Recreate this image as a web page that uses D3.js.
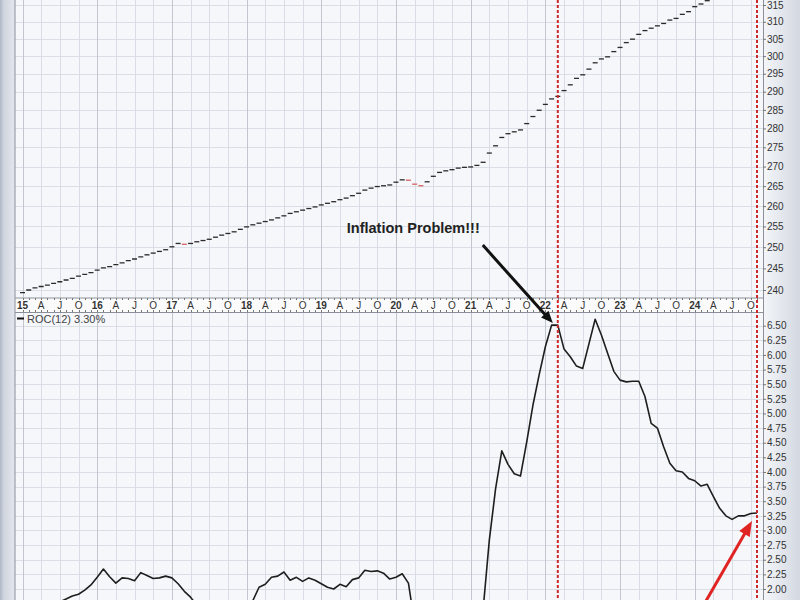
<!DOCTYPE html>
<html><head><meta charset="utf-8">
<script src="https://cdn.jsdelivr.net/npm/d3@7/dist/d3.min.js"></script>
<style>html,body{margin:0;padding:0;background:#fff;}svg{display:block;font-family:"Liberation Sans",Arial,sans-serif;}</style>
</head><body><svg id="c" width="800" height="600"></svg>
<script>
// ---------------- DATA ----------------
const startMonth = "2015-01";
const endMonth = "2024-11";
// Core CPI index (monthly) (log scale)
const cpi = [
 239.4,240.0,240.5,240.8,241.1,241.5,241.9,242.3,242.7,243.2,243.6,244.0,
 244.6,245.1,245.4,245.9,246.3,246.8,247.2,247.7,248.2,248.6,249.0,249.4,
 250.1,250.9,250.7,250.9,251.3,251.6,251.9,252.4,252.9,253.3,253.7,254.3,
 254.9,255.4,255.8,256.2,256.6,257.1,257.6,258.2,258.6,259.0,259.4,259.8,
 260.3,260.7,261.1,261.6,262.0,262.6,263.2,264.0,264.5,264.9,265.1,265.3,
 266.0,266.6,266.5,265.5,265.1,266.1,267.5,268.5,268.9,269.2,269.6,269.8,
 269.9,270.3,271.1,273.5,275.4,277.6,278.6,279.1,279.6,281.3,283.2,284.9,
 286.5,288.0,288.7,290.3,291.9,293.7,294.7,296.3,298.1,299.2,299.8,301.3,
 302.5,303.9,304.9,306.3,307.4,308.1,308.8,309.5,310.5,311.0,312.2,313.0,
 314.5,315.3,316.3,317.3,317.8,318.1,318.6,319.6,320.6,321.3,322.5
];
// ROC(12) in percent
const roc = [
 1.60,1.70,1.80,1.80,1.70,1.75,1.78,1.83,1.88,1.91,1.98,2.07,
 2.20,2.34,2.21,2.10,2.19,2.18,2.14,2.28,2.23,2.18,2.19,2.22,
 2.19,2.09,1.96,1.86,1.72,1.70,1.70,1.68,1.70,1.76,1.70,1.76,
 1.78,1.80,2.03,2.08,2.20,2.22,2.29,2.15,2.20,2.13,2.19,2.15,
 2.09,2.03,2.00,2.08,2.04,2.16,2.19,2.32,2.30,2.31,2.27,2.17,
 2.20,2.26,2.10,1.41,1.24,1.19,1.57,1.70,1.71,1.62,1.64,1.61,
 1.40,1.28,1.65,2.84,3.71,4.36,4.13,3.97,3.93,4.51,5.14,5.66,
 6.14,6.51,6.51,6.10,5.97,5.81,5.77,6.19,6.61,6.34,6.03,5.72,
 5.57,5.54,5.55,5.55,5.29,4.83,4.75,4.43,4.15,4.02,4.00,3.89,
 3.85,3.76,3.79,3.58,3.38,3.25,3.19,3.25,3.25,3.29,3.30
];
const priceTicks = [240,245,250,255,260,265,270,275,280,285,290,295,300,305,310,315];
const rocTicks = [2.00,2.25,2.50,2.75,3.00,3.25,3.50,3.75,4.00,4.25,4.50,4.75,5.00,5.25,5.50,5.75,6.00,6.25,6.50];
const yearLabels = ["15","16","17","18","19","20","21","22","23","24"];
const quarterMonths = ["04","07","10"];
const quarterLabels = ["A","J","O"];
const markerMonths = ["2022-03","2024-11"];
const annotationText = "Inflation Problem!!!";
const legendText = "ROC(12) 3.30%";

// ---------------- LAYOUT ----------------
const W = 800, H = 600;
const L = 15, R = 763;
const topPanel = {y0: -10, y1: 297.5};
const band = {y0: 298, y1: 311};
const botPanel = {y0: 312, y1: 620};

const parseM = d3.timeParse("%Y-%m");
const fmtM = d3.timeFormat("%Y-%m");
const monthKeys = d3.timeMonth.range(parseM(startMonth), d3.timeMonth.offset(parseM(endMonth), 1)).map(fmtM);

const x = d3.scalePoint().domain(monthKeys).range([22.5, 757]);
const yTop = d3.scaleLog().domain([240, 315]).range([290, 5]);
const yBot = d3.scaleLinear().domain([2, 6.5]).range([589, 325.7]);

const svg = d3.select("#c");
const defs = svg.append("defs");

const lg = defs.append("linearGradient").attr("id", "leftg").attr("x1", 0).attr("x2", 1);
lg.append("stop").attr("offset", "0").attr("stop-color", "#aeb5c4");
lg.append("stop").attr("offset", "0.25").attr("stop-color", "#cfd4de");
lg.append("stop").attr("offset", "1").attr("stop-color", "#e4e7ee");
const rg = defs.append("linearGradient").attr("id", "rightg").attr("x1", 0).attr("x2", 1);
rg.append("stop").attr("offset", "0").attr("stop-color", "#f4f6f9");
rg.append("stop").attr("offset", "1").attr("stop-color", "#d3d8e1");

defs.append("clipPath").attr("id", "clipTop").append("rect")
  .attr("x", L).attr("y", topPanel.y0).attr("width", R - L).attr("height", topPanel.y1 - topPanel.y0);
defs.append("clipPath").attr("id", "clipBot").append("rect")
  .attr("x", L).attr("y", botPanel.y0).attr("width", R - L).attr("height", botPanel.y1 - botPanel.y0);

// backgrounds
svg.append("rect").attr("x", 0).attr("y", 0).attr("width", W).attr("height", H).attr("fill", "#ffffff");
svg.append("rect").attr("x", 0).attr("y", 0).attr("width", L).attr("height", H).attr("fill", "url(#leftg)");
svg.append("rect").attr("x", R).attr("y", 0).attr("width", W - R).attr("height", H).attr("fill", "url(#rightg)");
[topPanel, botPanel].forEach(p => {
  svg.append("rect").attr("x", L).attr("y", p.y0).attr("width", R - L).attr("height", p.y1 - p.y0).attr("fill", "#f5f7fa");
});
svg.append("rect").attr("x", L).attr("y", band.y0).attr("width", R - L).attr("height", band.y1 - band.y0).attr("fill", "#fbfbfc");

const quarterKeys = monthKeys.filter(k => k.slice(5) === "01" || quarterMonths.includes(k.slice(5)));

// grid
function grid(p, yScale, ticks) {
  const g = svg.append("g");
  g.selectAll("line.h").data(ticks).join("line")
    .attr("x1", L).attr("x2", R)
    .attr("y1", d => Math.round(yScale(d)) + 0.5).attr("y2", d => Math.round(yScale(d)) + 0.5)
    .attr("stroke", "#dadee6").attr("stroke-width", 1);
  g.selectAll("line.v").data(quarterKeys).join("line")
    .attr("x1", d => Math.round(x(d)) + 0.5).attr("x2", d => Math.round(x(d)) + 0.5)
    .attr("y1", Math.max(p.y0, 0)).attr("y2", p.y1)
    .attr("stroke", d => d.slice(5) === "01" ? "#c2c6ce" : "#d8dce4").attr("stroke-width", 1);
}
grid(topPanel, yTop, priceTicks);
grid(botPanel, yBot, rocTicks);

// panel borders
svg.append("line").attr("x1", L).attr("x2", L).attr("y1", 0).attr("y2", H).attr("stroke", "#8a8f99");
svg.append("line").attr("x1", R + 0.5).attr("x2", R + 0.5).attr("y1", 0).attr("y2", H).attr("stroke", "#8a8f99");
svg.append("line").attr("x1", L).attr("x2", R).attr("y1", band.y0).attr("y2", band.y0).attr("stroke", "#8a8f99");
svg.append("line").attr("x1", L).attr("x2", R).attr("y1", botPanel.y0 + 0.5).attr("y2", botPanel.y0 + 0.5).attr("stroke", "#8a8f99");

// band ticks (dotted)
const bandG = svg.append("g");
bandG.selectAll("line.t").data(monthKeys).join("line")
  .attr("x1", d => Math.round(x(d)) + 0.5).attr("x2", d => Math.round(x(d)) + 0.5)
  .attr("y1", band.y0).attr("y2", band.y0 + 2).attr("stroke", "#777");
bandG.selectAll("line.b").data(monthKeys).join("line")
  .attr("x1", d => Math.round(x(d)) + 0.5).attr("x2", d => Math.round(x(d)) + 0.5)
  .attr("y1", band.y1 - 1).attr("y2", band.y1 + 1).attr("stroke", "#777");
bandG.selectAll("text").data(quarterKeys).join("text")
  .attr("x", d => x(d)).attr("y", band.y1 - 2)
  .attr("text-anchor", "middle")
  .attr("font-size", 10)
  .attr("font-weight", d => d.slice(5) === "01" ? "bold" : "normal")
  .attr("fill", "#333")
  .text(d => {
    const m = d.slice(5);
    if (m === "01") return yearLabels[+d.slice(0, 4) - 2015];
    return quarterLabels[quarterMonths.indexOf(m)];
  });

// right axes
const axT = svg.append("g").attr("transform", `translate(${R},0)`)
  .call(d3.axisRight(yTop).tickValues(priceTicks).tickFormat(d3.format("d")).tickSize(3).tickPadding(1));
const axB = svg.append("g").attr("transform", `translate(${R},0)`)
  .call(d3.axisRight(yBot).tickValues(rocTicks).tickFormat(d3.format(".2f")).tickSize(3).tickPadding(1));
[axT, axB].forEach(a => {
  a.select(".domain").remove();
  a.selectAll("line").attr("stroke", "#777");
  a.selectAll("text").attr("font-size", 10).attr("fill", "#333").attr("font-family", "Liberation Sans, Arial, sans-serif");
});

// upper panel price dashes
const topG = svg.append("g").attr("clip-path", "url(#clipTop)");
topG.selectAll("line").data(cpi).join("line")
  .attr("x1", (d, i) => x(monthKeys[i]) - 2.5)
  .attr("x2", (d, i) => x(monthKeys[i]) + 2.5)
  .attr("y1", d => yTop(d)).attr("y2", d => yTop(d))
  .attr("stroke", (d, i) => (i > 0 && d < cpi[i - 1]) ? "#d86060" : "#2a2a2a")
  .attr("stroke-width", 1.3);

// lower panel ROC line
const botG = svg.append("g").attr("clip-path", "url(#clipBot)");
botG.append("path").datum(roc)
  .attr("d", d3.line().x((d, i) => x(monthKeys[i])).y(d => yBot(d)))
  .attr("fill", "none").attr("stroke", "#1e1e1e").attr("stroke-width", 1.6).attr("stroke-linejoin", "round");

// legend
svg.append("line").attr("x1", 17).attr("x2", 24).attr("y1", 318.5).attr("y2", 318.5).attr("stroke", "#111").attr("stroke-width", 2);
svg.append("text").attr("x", 27).attr("y", 322.5).attr("font-size", 11).attr("fill", "#444").text(legendText);

// red dashed markers
svg.selectAll("line.mk").data(markerMonths).join("line")
  .attr("x1", d => x(d)).attr("x2", d => x(d))
  .attr("y1", 0).attr("y2", H)
  .attr("stroke", "#cc2a2a").attr("stroke-width", 2).attr("stroke-dasharray", "3,2");

// arrows
function arrow(tip, start, color, width, headLen, headW) {
  const dx = tip[0] - start[0], dy = tip[1] - start[1];
  const len = Math.hypot(dx, dy), ux = dx / len, uy = dy / len;
  const bx = tip[0] - ux * headLen, by = tip[1] - uy * headLen;
  svg.append("line").attr("x1", start[0]).attr("y1", start[1]).attr("x2", bx + ux * 2).attr("y2", by + uy * 2)
    .attr("stroke", color).attr("stroke-width", width);
  svg.append("polygon").attr("points", [
    [tip[0], tip[1]],
    [bx - uy * headW / 2, by + ux * headW / 2],
    [bx + uy * headW / 2, by - ux * headW / 2]
  ].map(p => p.join(",")).join(" ")).attr("fill", color);
}
const iPeak = monthKeys.indexOf(markerMonths[0]);
const tipB = [x(markerMonths[0]) - 5, yBot(roc[iPeak]) - 2];
arrow(tipB, [tipB[0] - 70, tipB[1] - 78], "#111", 3, 12, 10);
const iLast = monthKeys.length - 1;
const tipR = [x(monthKeys[iLast]) - 5, yBot(roc[iLast]) + 8];
arrow(tipR, [tipR[0] - 46, tipR[1] + 80], "#e02424", 3, 15, 12);

// annotation text
svg.append("text").attr("x", tipB[0] - 206).attr("y", tipB[1] - 90)
  .attr("font-size", 14.5).attr("font-weight", "bold").attr("fill", "#222").text(annotationText);
</script></body></html>
